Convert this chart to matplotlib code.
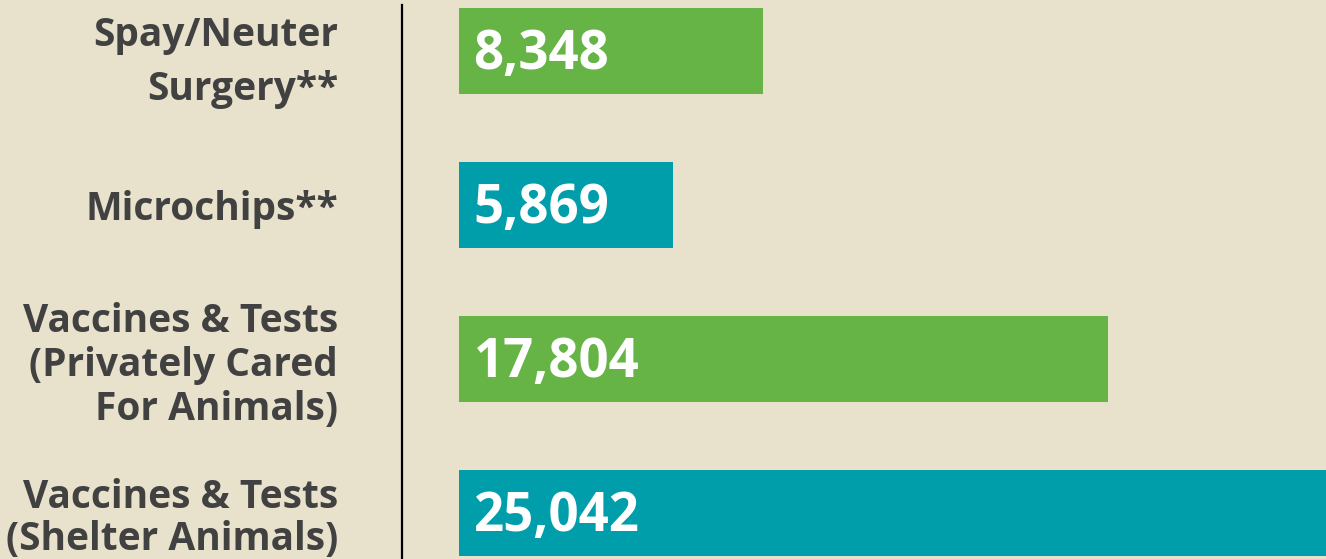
import numpy as np
import matplotlib.pyplot as plt
from matplotlib.lines import Line2D

# data
categories = ['Spay/Neuter\nSurgery**', 'Microchips**',
              'Vaccines & Tests\n(Privately Cared\nFor Animals)',
              'Vaccines & Tests\n(Shelter Animals)']
values = [8348, 5869, 17804, 25042]
bar_colors = ['#66B446', '#009EAA', '#66B446', '#009EAA']

bg = '#E8E2CD'
txt = '#414141'
font = 'Open Sans'

W, H = 1326, 559
fig = plt.figure(figsize=(W / 100, H / 100), dpi=100, facecolor=bg)
ax = fig.add_axes([459 / W, 0, 1 - 459 / W, 1])
ax.set_facecolor(bg)

pos = np.arange(len(values))
ax.barh(pos, values, height=0.56, color=bar_colors)
ax.set_xlim(0, 23786)
ax.set_ylim(3.30, -0.33)

for p, v in zip(pos, values):
    ax.text(400, p + 0.03, f'{v:,}', color='white', fontsize=38, fontweight='bold',
            family=font, va='center', ha='left')

ax.set_yticks(pos)
ax.set_yticklabels(categories, fontsize=28, fontweight='bold', family=font,
                   color=txt)
ax.tick_params(axis='y', length=0, pad=87)
ax.tick_params(axis='x', bottom=False, labelbottom=False)
for lab, ls in zip(ax.get_yticklabels(), [1.5, 1.18, 1.16, 1.08]):
    lab.set_linespacing(ls)
for s in ax.spines.values():
    s.set_visible(False)

# divider line
fig.add_artist(Line2D([401.5 / W, 401.5 / W], [0, 1 - 5 / H], color='black',
                      lw=1.6, transform=fig.transFigure))

fig.savefig('out.png', dpi=100, facecolor=bg)
